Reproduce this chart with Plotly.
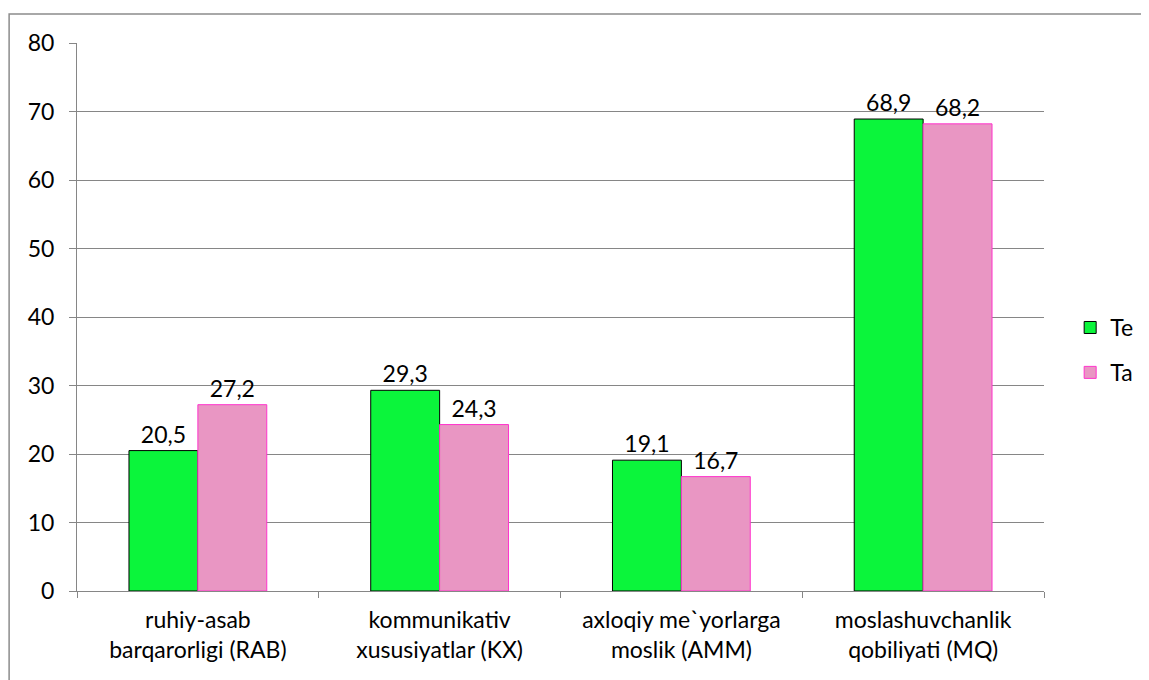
import plotly.graph_objects as go

categories = ["ruhiy-asab<br>barqarorligi (RAB)", "kommunikativ<br>xususiyatlar (KX)",
              "axloqiy me`yorlarga<br>moslik (AMM)", "moslashuvchanlik<br>qobiliyati (MQ)"]
te_values = [20.5, 29.3, 19.1, 68.9]
ta_values = [27.2, 24.3, 16.7, 68.2]
y_ticks = [0, 10, 20, 30, 40, 50, 60, 70, 80]

FONT = "Lato, 'Open Sans', sans-serif"
FS = 23

fig = go.Figure()
fig.add_trace(go.Bar(
    x=categories, y=te_values, name="Te", legendgroup="te",
    marker=dict(color="#0bf53b", line=dict(color="#000000", width=1)),
    texttemplate="%{y:.1f}", textposition="outside", cliponaxis=False,
    textfont=dict(size=FS, color="#000000", family=FONT),
))
fig.add_trace(go.Bar(
    x=categories, y=ta_values, name="Ta", legendgroup="ta",
    marker=dict(color="#e996c3", line=dict(color="#ff33cc", width=1)),
    texttemplate="%{y:.1f}", textposition="outside", cliponaxis=False,
    textfont=dict(size=FS, color="#000000", family=FONT),
))

fig.update_layout(
    width=1141, height=672,
    margin=dict(l=69, r=104, t=35, b=89),
    paper_bgcolor="white", plot_bgcolor="white",
    separators=",.",
    barmode="group", bargap=0.43, bargroupgap=0,
    font=dict(family=FONT, size=FS, color="#000000"),
    showlegend=True,
    legend=dict(x=1.026, y=0.52, xanchor="left", yanchor="top",
                font=dict(size=FS), tracegroupgap=12, bgcolor="rgba(0,0,0,0)"),
    xaxis=dict(showline=True, linecolor="#868686", linewidth=1,
               ticks="outside", tickson="boundaries", ticklen=6, tickcolor="#868686",
               tickfont=dict(size=FS), showgrid=False, ticklabelstandoff=8),
    yaxis=dict(range=[0, 80], tickvals=y_ticks, showline=True, linecolor="#868686",
               linewidth=1, ticks="outside", ticklen=7, tickcolor="#868686",
               showgrid=True, gridcolor="#868686", gridwidth=1,
               tickfont=dict(size=FS), zeroline=False, ticklabelstandoff=10),
    shapes=[dict(type="rect", xref="paper", yref="paper",
                 x0=-0.0702, x1=1.3, y0=-0.4, y1=1.053,
                 line=dict(color="#8c8c8c", width=1.5), fillcolor="rgba(0,0,0,0)",
                 layer="below")],
)

fig.write_html("out.html")
